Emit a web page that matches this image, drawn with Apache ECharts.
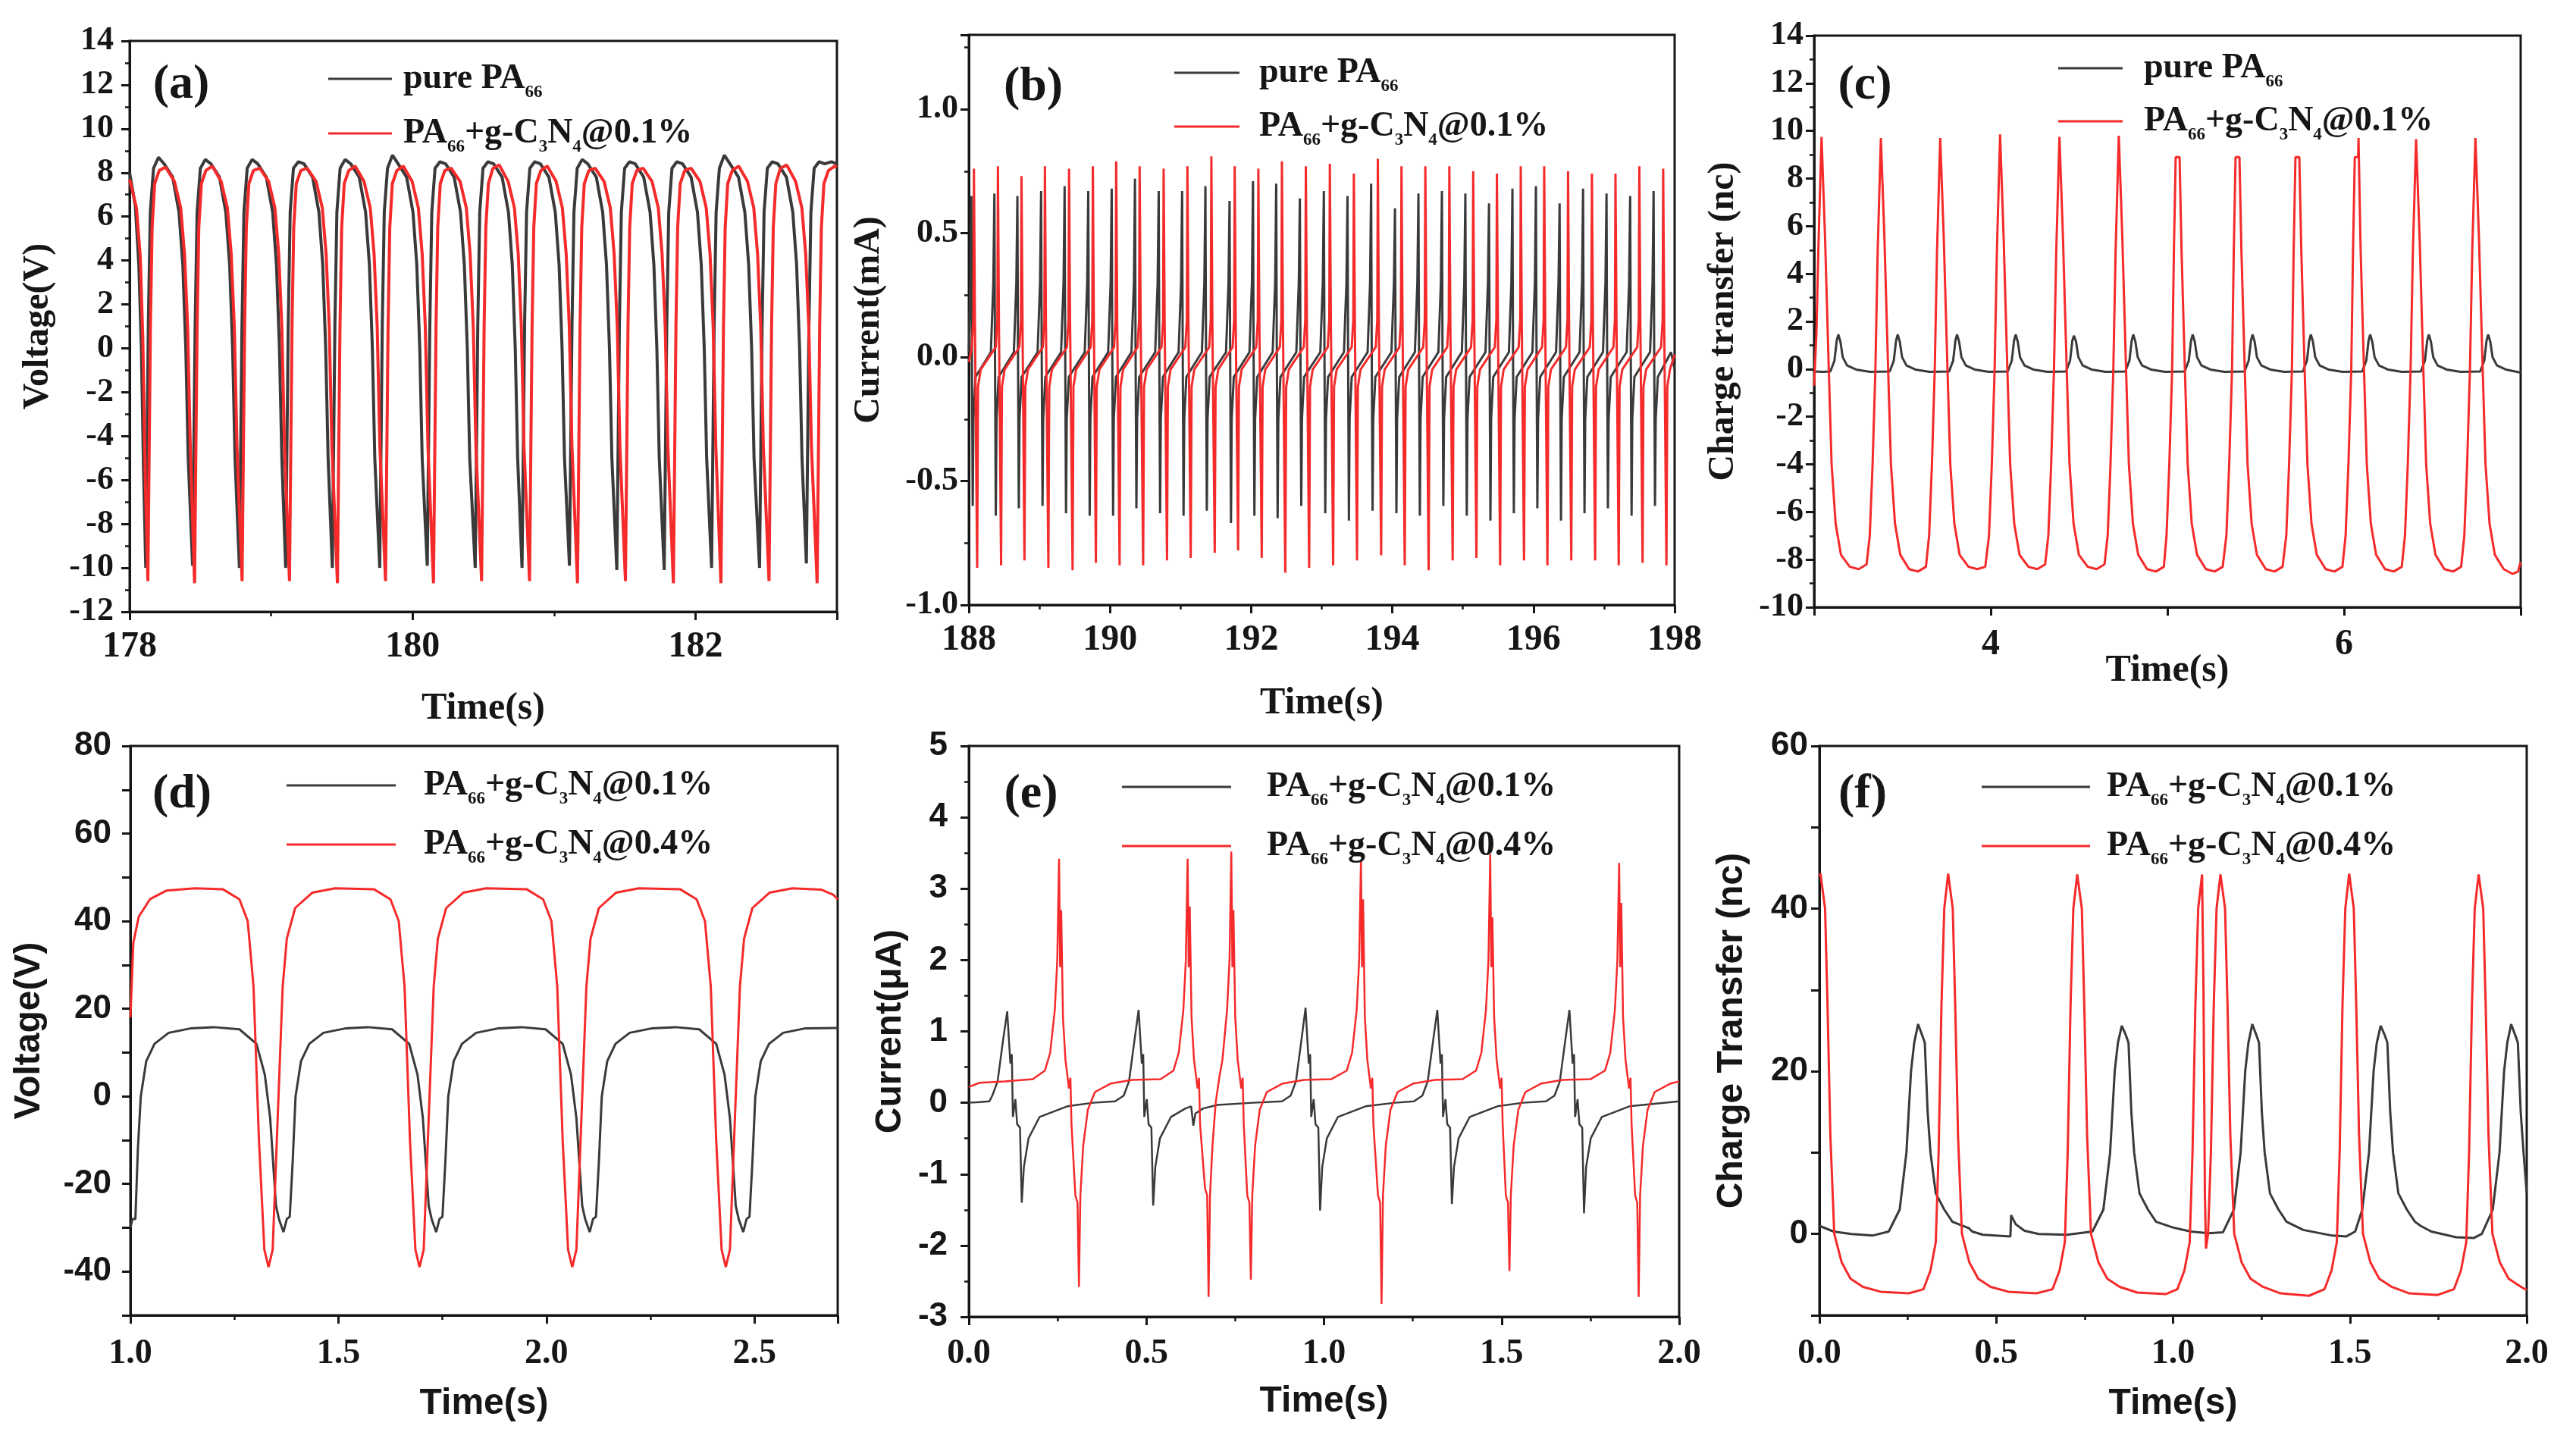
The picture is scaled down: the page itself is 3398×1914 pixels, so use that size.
<!DOCTYPE html>
<html>
<head>
<meta charset="utf-8">
<script src="https://cdn.jsdelivr.net/npm/echarts/dist/echarts.min.js"></script>
<style>
html,body{margin:0;padding:0;background:#fff}
#chart{width:3398px;height:1914px}
</style>
</head>
<body>
<div id="chart"></div>
<script>
// (a) voltage, 178-183 s
var aBlack = [[178.000,8.0],[178.040,6.5],[178.065,3.8],[178.083,0.0],[178.098,-5.5],
[178.114,-10.0],[178.132,1.0],[178.146,6.2],[178.169,8.2],[178.204,8.7],[178.244,8.4],[178.304,7.8],[178.349,6.2],[178.376,3.8],[178.397,0.0],[178.414,-5.0],
[178.445,-9.9],[178.463,1.0],[178.477,6.2],[178.500,8.2],[178.535,8.6],[178.575,8.4],[178.635,7.8],[178.680,6.2],[178.707,3.8],[178.728,0.0],[178.745,-5.0],
[178.776,-10.0],[178.794,1.0],[178.808,6.2],[178.831,8.2],[178.866,8.6],[178.906,8.4],[178.966,7.8],[179.011,6.2],[179.038,3.8],[179.059,0.0],[179.076,-5.0],
[179.103,-10.0],[179.121,1.0],[179.135,6.2],[179.158,8.2],[179.193,8.5],[179.233,8.4],[179.293,7.8],[179.338,6.2],[179.365,3.8],[179.386,0.0],[179.403,-5.0],
[179.433,-10.0],[179.451,1.0],[179.465,6.2],[179.488,8.2],[179.523,8.6],[179.563,8.4],[179.623,7.8],[179.668,6.2],[179.695,3.8],[179.716,0.0],[179.733,-5.0],
[179.768,-10.0],[179.786,1.0],[179.800,6.2],[179.823,8.2],[179.858,8.8],[179.898,8.4],[179.958,7.8],[180.003,6.2],[180.030,3.8],[180.051,0.0],[180.068,-5.0],
[180.104,-9.9],[180.122,1.0],[180.136,6.2],[180.159,8.2],[180.194,8.5],[180.234,8.4],[180.294,7.8],[180.339,6.2],[180.366,3.8],[180.387,0.0],[180.404,-5.0],
[180.443,-10.0],[180.461,1.0],[180.475,6.2],[180.498,8.2],[180.533,8.5],[180.573,8.4],[180.633,7.8],[180.678,6.2],[180.705,3.8],[180.726,0.0],[180.743,-5.0],
[180.774,-10.0],[180.792,1.0],[180.806,6.2],[180.829,8.2],[180.864,8.5],[180.904,8.4],[180.964,7.8],[181.009,6.2],[181.036,3.8],[181.057,0.0],[181.074,-5.0],
[181.109,-9.9],[181.127,1.0],[181.141,6.2],[181.164,8.2],[181.199,8.6],[181.239,8.4],[181.299,7.8],[181.344,6.2],[181.371,3.8],[181.392,0.0],[181.409,-5.0],
[181.444,-10.1],[181.462,1.0],[181.476,6.2],[181.499,8.2],[181.534,8.5],[181.574,8.4],[181.634,7.8],[181.679,6.2],[181.706,3.8],[181.727,0.0],[181.744,-5.0],
[181.779,-10.1],[181.797,1.0],[181.811,6.2],[181.834,8.2],[181.869,8.5],[181.909,8.4],[181.969,7.8],[182.014,6.2],[182.041,3.8],[182.062,0.0],[182.079,-5.0],
[182.114,-10.0],[182.132,1.0],[182.146,6.2],[182.169,8.2],[182.204,8.8],[182.244,8.4],[182.304,7.8],[182.349,6.2],[182.376,3.8],[182.397,0.0],[182.414,-5.0],
[182.453,-10.0],[182.471,1.0],[182.485,6.2],[182.508,8.2],[182.543,8.5],[182.583,8.4],[182.643,7.8],[182.688,6.2],[182.715,3.8],[182.736,0.0],[182.753,-5.0],
[182.784,-9.8],[182.802,1.0],[182.816,6.2],[182.839,8.2],[182.874,8.5],[182.914,8.4],[182.960,8.5],[183.000,8.4]];

var aRed = [[178.000,7.7],[178.048,6.4],[178.075,4.2],[178.093,0.5],[178.111,-6.0],
[178.129,-10.6],[178.147,1.0],[178.159,5.5],[178.177,7.5],[178.209,8.1],[178.254,8.25],[178.317,7.6],[178.361,6.4],[178.388,4.3],[178.410,1.0],[178.429,-4.5],
[178.459,-10.7],[178.477,1.0],[178.489,5.5],[178.507,7.5],[178.539,8.1],[178.584,8.3],[178.647,7.6],[178.691,6.4],[178.718,4.3],[178.740,1.0],[178.759,-4.5],
[178.795,-10.6],[178.813,1.0],[178.825,5.5],[178.843,7.5],[178.875,8.1],[178.920,8.2],[178.983,7.6],[179.027,6.4],[179.054,4.3],[179.076,1.0],[179.095,-4.5],
[179.130,-10.6],[179.148,1.0],[179.160,5.5],[179.178,7.5],[179.210,8.1],[179.255,8.2],[179.318,7.6],[179.362,6.4],[179.389,4.3],[179.411,1.0],[179.430,-4.5],
[179.469,-10.7],[179.487,1.0],[179.499,5.5],[179.517,7.5],[179.549,8.1],[179.594,8.3],[179.657,7.6],[179.701,6.4],[179.728,4.3],[179.750,1.0],[179.769,-4.5],
[179.809,-10.6],[179.827,1.0],[179.839,5.5],[179.857,7.5],[179.889,8.1],[179.934,8.3],[179.997,7.6],[180.041,6.4],[180.068,4.3],[180.090,1.0],[180.109,-4.5],
[180.148,-10.7],[180.166,1.0],[180.178,5.5],[180.196,7.5],[180.228,8.1],[180.273,8.2],[180.336,7.6],[180.380,6.4],[180.407,4.3],[180.429,1.0],[180.448,-4.5],
[180.488,-10.6],[180.506,1.0],[180.518,5.5],[180.536,7.5],[180.568,8.2],[180.613,8.35],[180.676,7.6],[180.720,6.4],[180.747,4.3],[180.769,1.0],[180.788,-4.5],
[180.827,-10.6],[180.845,1.0],[180.857,5.5],[180.875,7.5],[180.907,8.1],[180.952,8.3],[181.015,7.6],[181.059,6.4],[181.086,4.3],[181.108,1.0],[181.127,-4.5],
[181.166,-10.7],[181.184,1.0],[181.196,5.5],[181.214,7.5],[181.246,8.1],[181.291,8.2],[181.354,7.6],[181.398,6.4],[181.425,4.3],[181.447,1.0],[181.466,-4.5],
[181.505,-10.6],[181.523,1.0],[181.535,5.5],[181.553,7.5],[181.585,8.1],[181.630,8.2],[181.693,7.6],[181.737,6.4],[181.764,4.3],[181.786,1.0],[181.805,-4.5],
[181.844,-10.7],[181.862,1.0],[181.874,5.5],[181.892,7.5],[181.924,8.1],[181.969,8.2],[182.032,7.6],[182.076,6.4],[182.103,4.3],[182.125,1.0],[182.144,-4.5],
[182.180,-10.7],[182.198,1.0],[182.210,5.5],[182.228,7.5],[182.260,8.1],[182.305,8.3],[182.368,7.6],[182.412,6.4],[182.439,4.3],[182.461,1.0],[182.480,-4.5],
[182.520,-10.6],[182.538,1.0],[182.550,5.5],[182.568,7.5],[182.600,8.2],[182.645,8.35],[182.708,7.6],[182.752,6.4],[182.779,4.3],[182.801,1.0],[182.820,-4.5],
[182.860,-10.7],[182.878,1.0],[182.890,5.5],[182.908,7.5],[182.940,8.1],[182.985,8.3],[183.000,8.25]];

// (b) current, 188-198 s
var bBlack = [[188.000,0.02],
[188.020,0.3],[188.035,0.65],[188.043,0.05],[188.055,-0.60],[188.065,-0.25],[188.095,-0.08],
[188.312,0.02],[188.347,0.3],[188.362,0.66],[188.370,0.05],[188.382,-0.64],[188.392,-0.25],[188.422,-0.08],
[188.638,0.02],[188.673,0.3],[188.688,0.65],[188.696,0.05],[188.708,-0.61],[188.718,-0.25],[188.748,-0.08],
[188.974,0.02],[189.009,0.3],[189.024,0.67],[189.032,0.05],[189.044,-0.60],[189.054,-0.25],[189.084,-0.08],
[189.307,0.02],[189.342,0.3],[189.357,0.69],[189.365,0.05],[189.377,-0.63],[189.387,-0.25],[189.417,-0.08],
[189.642,0.02],[189.677,0.3],[189.692,0.67],[189.700,0.05],[189.712,-0.64],[189.722,-0.25],[189.752,-0.08],
[189.974,0.02],[190.009,0.3],[190.024,0.68],[190.032,0.05],[190.044,-0.64],[190.054,-0.25],[190.084,-0.08],
[190.304,0.02],[190.339,0.3],[190.354,0.72],[190.362,0.05],[190.374,-0.61],[190.384,-0.25],[190.414,-0.08],
[190.640,0.02],[190.675,0.3],[190.690,0.67],[190.698,0.05],[190.710,-0.63],[190.720,-0.25],[190.750,-0.08],
[190.972,0.02],[191.007,0.3],[191.022,0.67],[191.030,0.05],[191.042,-0.64],[191.052,-0.25],[191.082,-0.08],
[191.302,0.02],[191.337,0.3],[191.352,0.69],[191.360,0.05],[191.372,-0.62],[191.382,-0.25],[191.412,-0.08],
[191.644,0.02],[191.679,0.3],[191.694,0.63],[191.702,0.05],[191.714,-0.67],[191.724,-0.25],[191.754,-0.08],
[191.976,0.02],[192.011,0.3],[192.026,0.71],[192.034,0.05],[192.046,-0.64],[192.056,-0.25],[192.086,-0.08],
[192.305,0.02],[192.340,0.3],[192.355,0.70],[192.363,0.05],[192.375,-0.65],[192.385,-0.25],[192.415,-0.08],
[192.640,0.02],[192.675,0.3],[192.690,0.64],[192.698,0.05],[192.710,-0.60],[192.720,-0.25],[192.750,-0.08],
[192.980,0.02],[193.015,0.3],[193.030,0.67],[193.038,0.05],[193.050,-0.63],[193.060,-0.25],[193.090,-0.08],
[193.315,0.02],[193.350,0.3],[193.365,0.65],[193.373,0.05],[193.385,-0.66],[193.395,-0.25],[193.425,-0.08],
[193.650,0.02],[193.685,0.3],[193.700,0.70],[193.708,0.05],[193.720,-0.62],[193.730,-0.25],[193.760,-0.08],
[193.988,0.02],[194.023,0.3],[194.038,0.60],[194.046,0.05],[194.058,-0.63],[194.068,-0.25],[194.098,-0.08],
[194.320,0.02],[194.355,0.3],[194.370,0.66],[194.378,0.05],[194.390,-0.64],[194.400,-0.25],[194.430,-0.08],
[194.653,0.02],[194.688,0.3],[194.703,0.67],[194.711,0.05],[194.723,-0.60],[194.733,-0.25],[194.763,-0.08],
[194.985,0.02],[195.020,0.3],[195.035,0.66],[195.043,0.05],[195.055,-0.64],[195.065,-0.25],[195.095,-0.08],
[195.320,0.02],[195.355,0.3],[195.370,0.62],[195.378,0.05],[195.390,-0.66],[195.400,-0.25],[195.430,-0.08],
[195.652,0.02],[195.687,0.3],[195.702,0.68],[195.710,0.05],[195.722,-0.63],[195.732,-0.25],[195.762,-0.08],
[195.985,0.02],[196.020,0.3],[196.035,0.69],[196.043,0.05],[196.055,-0.61],[196.065,-0.25],[196.095,-0.08],
[196.320,0.02],[196.355,0.3],[196.370,0.62],[196.378,0.05],[196.390,-0.66],[196.400,-0.25],[196.430,-0.08],
[196.653,0.02],[196.688,0.3],[196.703,0.68],[196.711,0.05],[196.723,-0.63],[196.733,-0.25],[196.763,-0.08],
[196.985,0.02],[197.020,0.3],[197.035,0.66],[197.043,0.05],[197.055,-0.61],[197.065,-0.25],[197.095,-0.08],
[197.320,0.02],[197.355,0.3],[197.370,0.65],[197.378,0.05],[197.390,-0.64],[197.400,-0.25],[197.430,-0.08],
[197.652,0.02],[197.687,0.3],[197.702,0.67],[197.710,0.05],[197.722,-0.60],[197.732,-0.25],[197.762,-0.08],
[197.950,0.02],[198.000,-0.05]];

var bRed = [[188.000,-0.02],
[188.042,0.04],[188.064,0.15],[188.072,0.76],[188.087,0.12],[188.118,-0.85],[188.130,-0.12],[188.168,-0.05],
[188.382,0.04],[188.404,0.15],[188.412,0.77],[188.427,0.12],[188.457,-0.84],[188.469,-0.12],[188.507,-0.05],
[188.716,0.04],[188.738,0.15],[188.746,0.73],[188.761,0.12],[188.788,-0.82],[188.800,-0.12],[188.838,-0.05],
[189.048,0.04],[189.070,0.15],[189.078,0.77],[189.093,0.12],[189.127,-0.85],[189.139,-0.12],[189.177,-0.05],
[189.390,0.04],[189.412,0.15],[189.420,0.76],[189.435,0.12],[189.470,-0.86],[189.482,-0.12],[189.520,-0.05],
[189.727,0.04],[189.749,0.15],[189.757,0.77],[189.772,0.12],[189.800,-0.83],[189.812,-0.12],[189.850,-0.05],
[190.058,0.04],[190.080,0.15],[190.088,0.79],[190.103,0.12],[190.136,-0.84],[190.148,-0.12],[190.186,-0.05],
[190.390,0.04],[190.412,0.15],[190.420,0.77],[190.435,0.12],[190.470,-0.84],[190.482,-0.12],[190.520,-0.05],
[190.730,0.04],[190.752,0.15],[190.760,0.76],[190.775,0.12],[190.808,-0.82],[190.820,-0.12],[190.858,-0.05],
[191.067,0.04],[191.089,0.15],[191.097,0.77],[191.112,0.12],[191.144,-0.81],[191.156,-0.12],[191.194,-0.05],
[191.406,0.04],[191.428,0.15],[191.436,0.81],[191.451,0.12],[191.484,-0.79],[191.496,-0.12],[191.534,-0.05],
[191.737,0.04],[191.759,0.15],[191.767,0.77],[191.782,0.12],[191.815,-0.78],[191.827,-0.12],[191.865,-0.05],
[192.072,0.04],[192.094,0.15],[192.102,0.76],[192.117,0.12],[192.150,-0.81],[192.162,-0.12],[192.200,-0.05],
[192.406,0.04],[192.428,0.15],[192.436,0.79],[192.451,0.12],[192.484,-0.87],[192.496,-0.12],[192.534,-0.05],
[192.745,0.04],[192.767,0.15],[192.775,0.77],[192.790,0.12],[192.822,-0.85],[192.834,-0.12],[192.872,-0.05],
[193.085,0.04],[193.107,0.15],[193.115,0.78],[193.130,0.12],[193.162,-0.84],[193.174,-0.12],[193.212,-0.05],
[193.425,0.04],[193.447,0.15],[193.455,0.74],[193.470,0.12],[193.500,-0.82],[193.512,-0.12],[193.550,-0.05],
[193.765,0.04],[193.787,0.15],[193.795,0.80],[193.810,0.12],[193.842,-0.80],[193.854,-0.12],[193.892,-0.05],
[194.100,0.04],[194.122,0.15],[194.130,0.77],[194.145,0.12],[194.176,-0.84],[194.188,-0.12],[194.226,-0.05],
[194.438,0.04],[194.460,0.15],[194.468,0.77],[194.483,0.12],[194.515,-0.86],[194.527,-0.12],[194.565,-0.05],
[194.778,0.04],[194.800,0.15],[194.808,0.77],[194.823,0.12],[194.855,-0.82],[194.867,-0.12],[194.905,-0.05],
[195.116,0.04],[195.138,0.15],[195.146,0.75],[195.161,0.12],[195.192,-0.81],[195.204,-0.12],[195.242,-0.05],
[195.452,0.04],[195.474,0.15],[195.482,0.74],[195.497,0.12],[195.528,-0.84],[195.540,-0.12],[195.578,-0.05],
[195.790,0.04],[195.812,0.15],[195.820,0.77],[195.835,0.12],[195.866,-0.82],[195.878,-0.12],[195.916,-0.05],
[196.122,0.04],[196.144,0.15],[196.152,0.77],[196.167,0.12],[196.198,-0.84],[196.210,-0.12],[196.248,-0.05],
[196.460,0.04],[196.482,0.15],[196.490,0.75],[196.505,0.12],[196.536,-0.82],[196.548,-0.12],[196.586,-0.05],
[196.798,0.04],[196.820,0.15],[196.828,0.74],[196.843,0.12],[196.874,-0.82],[196.886,-0.12],[196.924,-0.05],
[197.132,0.04],[197.154,0.15],[197.162,0.74],[197.177,0.12],[197.208,-0.84],[197.220,-0.12],[197.258,-0.05],
[197.470,0.04],[197.492,0.15],[197.500,0.77],[197.515,0.12],[197.546,-0.83],[197.558,-0.12],[197.596,-0.05],
[197.808,0.04],[197.830,0.15],[197.838,0.76],[197.853,0.12],[197.884,-0.84],[197.896,-0.12],[197.934,-0.05],
[198.000,0.01]];

// (c) charge transfer, 3-7 s
var cBlack = [[3.000,-0.1],[3.050,-0.12],
[3.092,-0.1],[3.115,0.35],[3.128,1.2],[3.137,1.45],[3.149,1.15],[3.162,0.5],[3.187,0.15],[3.237,-0.02],[3.317,-0.12],
[3.428,-0.1],[3.451,0.35],[3.464,1.2],[3.473,1.45],[3.485,1.15],[3.498,0.5],[3.523,0.15],[3.573,-0.02],[3.653,-0.12],
[3.764,-0.1],[3.787,0.35],[3.800,1.2],[3.809,1.45],[3.821,1.15],[3.834,0.5],[3.859,0.15],[3.909,-0.02],[3.989,-0.12],
[4.096,-0.1],[4.119,0.35],[4.132,1.2],[4.141,1.45],[4.153,1.15],[4.166,0.5],[4.191,0.15],[4.241,-0.02],[4.321,-0.12],
[4.426,-0.1],[4.449,0.35],[4.462,1.2],[4.471,1.4],[4.483,1.15],[4.496,0.5],[4.521,0.15],[4.571,-0.02],[4.651,-0.12],
[4.762,-0.1],[4.785,0.35],[4.798,1.2],[4.807,1.45],[4.819,1.15],[4.832,0.5],[4.857,0.15],[4.907,-0.02],[4.987,-0.12],
[5.098,-0.1],[5.121,0.35],[5.134,1.2],[5.143,1.45],[5.155,1.15],[5.168,0.5],[5.193,0.15],[5.243,-0.02],[5.323,-0.12],
[5.437,-0.1],[5.460,0.35],[5.473,1.2],[5.482,1.45],[5.494,1.15],[5.507,0.5],[5.532,0.15],[5.582,-0.02],[5.662,-0.12],
[5.767,-0.1],[5.790,0.35],[5.803,1.2],[5.812,1.45],[5.824,1.15],[5.837,0.5],[5.862,0.15],[5.912,-0.02],[5.992,-0.12],
[6.103,-0.1],[6.126,0.35],[6.139,1.2],[6.148,1.45],[6.160,1.15],[6.173,0.5],[6.198,0.15],[6.248,-0.02],[6.328,-0.12],
[6.435,-0.1],[6.458,0.35],[6.471,1.2],[6.480,1.45],[6.492,1.15],[6.505,0.5],[6.530,0.15],[6.580,-0.02],[6.660,-0.12],
[6.771,-0.1],[6.794,0.35],[6.807,1.2],[6.816,1.45],[6.828,1.15],[6.841,0.5],[6.866,0.15],[6.916,-0.02],[7.000,-0.15]];

var cRed = [[3.000,-0.7],[3.013,1.5],[3.024,5.0],[3.042,9.75],
[3.062,5.5],[3.083,0],[3.099,-4],[3.122,-6.5],[3.152,-7.8],[3.202,-8.3],[3.252,-8.4],[3.297,-8.2],[3.315,-7.0],[3.331,-4],[3.347,0],[3.360,5],[3.378,9.7],
[3.398,5.5],[3.419,0],[3.435,-4],[3.458,-6.5],[3.488,-7.8],[3.538,-8.4],[3.588,-8.5],[3.633,-8.3],[3.651,-7.0],[3.667,-4],[3.683,0],[3.696,5],[3.714,9.7],
[3.734,5.5],[3.755,0],[3.771,-4],[3.794,-6.5],[3.824,-7.8],[3.874,-8.3],[3.924,-8.4],[3.969,-8.3],[3.990,-7.0],[4.006,-4],[4.022,0],[4.035,5],[4.053,9.85],
[4.073,5.5],[4.094,0],[4.110,-4],[4.133,-6.5],[4.163,-7.8],[4.213,-8.3],[4.263,-8.4],[4.308,-8.2],[4.326,-7.0],[4.342,-4],[4.358,0],[4.371,5],[4.389,9.75],
[4.409,5.5],[4.430,0],[4.446,-4],[4.469,-6.5],[4.499,-7.8],[4.549,-8.3],[4.599,-8.4],[4.644,-8.2],[4.662,-7.0],[4.678,-4],[4.694,0],[4.707,5],[4.725,9.8],
[4.745,5.5],[4.766,0],[4.782,-4],[4.805,-6.5],[4.835,-7.8],[4.885,-8.4],[4.935,-8.5],[4.980,-8.3],[4.995,-7.0],[5.011,-4],[5.027,0],[5.037,5],[5.047,8.9],[5.069,8.9],
[5.080,5.0],[5.099,0],[5.115,-4],[5.138,-6.5],[5.168,-7.8],[5.218,-8.4],[5.268,-8.5],[5.313,-8.3],[5.334,-7.0],[5.350,-4],[5.366,0],[5.376,5],[5.386,8.9],[5.408,8.9],
[5.419,5.0],[5.438,0],[5.454,-4],[5.477,-6.5],[5.507,-7.8],[5.557,-8.4],[5.607,-8.5],[5.652,-8.3],[5.673,-7.0],[5.689,-4],[5.705,0],[5.715,5],[5.725,8.9],[5.747,8.9],
[5.758,5.0],[5.777,0],[5.793,-4],[5.816,-6.5],[5.846,-7.8],[5.896,-8.4],[5.946,-8.5],[5.991,-8.3],[6.009,-7.0],[6.025,-4],[6.041,0],[6.051,5],[6.061,8.9],[6.080,8.9],[6.082,9.7],
[6.094,5.0],[6.113,0],[6.129,-4],[6.152,-6.5],[6.182,-7.8],[6.232,-8.4],[6.282,-8.5],[6.327,-8.3],[6.345,-7.0],[6.361,-4],[6.377,0],[6.390,5],[6.408,9.65],
[6.428,5.5],[6.449,0],[6.465,-4],[6.488,-6.5],[6.518,-7.8],[6.568,-8.4],[6.618,-8.5],[6.663,-8.3],[6.681,-7.0],[6.697,-4],[6.713,0],[6.726,5],[6.744,9.7],
[6.764,5.5],[6.785,0],[6.801,-4],[6.824,-6.5],[6.854,-7.8],[6.904,-8.4],[6.954,-8.6],[6.985,-8.5],[7.000,-8.1]];

// (d) voltage, 0.1% vs 0.4%
var dBlack = [[1.000,-30],[1.005,-28],[1.012,-28],[1.018,-12],[1.025,0],[1.038,8],[1.058,12],[1.092,14.5],[1.144,15.5],[1.200,15.8],
[1.262,15.3],[1.303,12],[1.323,5],[1.336,-5],[1.350,-25],[1.357,-28],[1.368,-31],[1.376,-28],[1.383,-27.5],[1.390,-15],[1.397,0],[1.410,8],[1.430,12],[1.464,14.5],[1.516,15.5],[1.570,15.8],
[1.629,15.3],[1.670,12],[1.690,5],[1.703,-5],[1.717,-25],[1.724,-28],[1.735,-31],[1.743,-28],[1.750,-27.5],[1.757,-15],[1.764,0],[1.777,8],[1.797,12],[1.831,14.5],[1.883,15.5],[1.940,15.8],
[1.998,15.3],[2.039,12],[2.059,5],[2.072,-5],[2.086,-25],[2.093,-28],[2.104,-31],[2.112,-28],[2.119,-27.5],[2.126,-15],[2.133,0],[2.146,8],[2.166,12],[2.200,14.5],[2.252,15.5],[2.310,15.8],
[2.367,15.3],[2.408,12],[2.428,5],[2.441,-5],[2.455,-25],[2.462,-28],[2.473,-31],[2.481,-28],[2.488,-27.5],[2.495,-15],[2.502,0],[2.515,8],[2.535,12],[2.569,14.5],[2.621,15.5],[2.700,15.6]];

var dRed = [[1.000,18],[1.007,35],[1.020,41],[1.047,45],[1.087,47],[1.155,47.5],
[1.222,47.3],[1.262,45],[1.282,40],[1.296,25],[1.309,-10],[1.322,-35],[1.332,-39],[1.342,-35],[1.352,-10],[1.366,25],[1.376,36],[1.396,43],[1.437,46.5],[1.492,47.5],
[1.585,47.3],[1.625,45],[1.645,40],[1.659,25],[1.672,-10],[1.685,-35],[1.695,-39],[1.705,-35],[1.715,-10],[1.729,25],[1.739,36],[1.759,43],[1.800,46.5],[1.855,47.5],
[1.952,47.3],[1.992,45],[2.012,40],[2.026,25],[2.039,-10],[2.052,-35],[2.062,-39],[2.072,-35],[2.082,-10],[2.096,25],[2.106,36],[2.126,43],[2.167,46.5],[2.222,47.5],
[2.321,47.3],[2.361,45],[2.381,40],[2.395,25],[2.408,-10],[2.421,-35],[2.431,-39],[2.441,-35],[2.451,-10],[2.465,25],[2.475,36],[2.495,43],[2.536,46.5],[2.591,47.5],[2.660,47.2],[2.690,46.0],[2.700,45.0]];

// (e) current, 0-2 s
var eBlack = [[0.000,0.0],[0.030,0.01],
[0.058,0.02],[0.066,0.1],[0.081,0.3],[0.097,0.9],[0.108,1.28],[0.117,0.55],[0.121,0.68],[0.124,-0.2],[0.131,0.05],[0.136,-0.3],[0.144,-0.35],[0.149,-1.40],[0.155,-0.9],[0.168,-0.5],[0.199,-0.2],[0.277,-0.05],[0.350,0.0],
[0.412,0.02],[0.436,0.1],[0.451,0.3],[0.467,0.9],[0.478,1.30],[0.487,0.55],[0.491,0.68],[0.494,-0.2],[0.501,0.05],[0.506,-0.3],[0.514,-0.35],[0.519,-1.44],[0.525,-0.9],[0.538,-0.5],[0.569,-0.2],[0.610,-0.08],[0.626,-0.05],[0.632,-0.32],[0.638,-0.15],[0.660,-0.08],[0.700,-0.03],[0.800,0.0],
[0.882,0.02],[0.906,0.1],[0.921,0.3],[0.937,0.9],[0.948,1.33],[0.957,0.55],[0.961,0.68],[0.964,-0.2],[0.971,0.05],[0.976,-0.3],[0.984,-0.35],[0.989,-1.51],[0.995,-0.9],[1.008,-0.5],[1.039,-0.2],[1.117,-0.05],[1.200,0.0],
[1.253,0.02],[1.277,0.1],[1.292,0.3],[1.308,0.9],[1.319,1.30],[1.328,0.55],[1.332,0.68],[1.335,-0.2],[1.342,0.05],[1.347,-0.3],[1.355,-0.35],[1.360,-1.42],[1.366,-0.9],[1.379,-0.5],[1.410,-0.2],[1.488,-0.05],[1.560,0.0],
[1.625,0.02],[1.649,0.1],[1.664,0.3],[1.680,0.9],[1.691,1.30],[1.700,0.55],[1.704,0.68],[1.707,-0.2],[1.714,0.05],[1.719,-0.3],[1.727,-0.35],[1.732,-1.55],[1.738,-0.9],[1.751,-0.5],[1.782,-0.2],[1.860,-0.05],[2.000,0.02]];

var eRed = [[0.000,0.22],[0.030,0.28],[0.100,0.30],[0.180,0.33],
[0.214,0.45],[0.229,0.7],[0.242,1.3],[0.249,2.0],[0.254,3.42],[0.257,1.9],[0.260,2.7],[0.265,1.2],[0.272,0.6],[0.282,0.2],[0.286,0.35],[0.289,-0.3],[0.300,-1.3],[0.306,-1.4],[0.310,-2.58],[0.314,-1.3],[0.322,-0.6],[0.335,-0.1],[0.355,0.15],[0.400,0.27],[0.460,0.32],[0.540,0.33],
[0.576,0.45],[0.591,0.7],[0.604,1.3],[0.611,2.0],[0.616,3.42],[0.619,1.9],[0.622,2.75],[0.627,1.2],[0.634,0.6],[0.644,0.2],[0.648,0.35],[0.651,-0.3],[0.665,-1.2],[0.671,-1.3],[0.675,-2.72],[0.679,-1.3],[0.686,-0.6],[0.695,0.0],[0.705,0.35],
[0.714,0.6],[0.727,1.3],[0.734,2.0],[0.739,3.52],[0.742,1.9],[0.745,2.7],[0.750,1.2],[0.757,0.6],[0.767,0.2],[0.771,0.35],[0.774,-0.3],[0.784,-1.3],[0.790,-1.4],[0.794,-2.48],[0.798,-1.3],[0.806,-0.6],[0.819,-0.1],[0.839,0.15],[0.884,0.27],[0.944,0.32],[1.020,0.33],
[1.064,0.45],[1.079,0.7],[1.092,1.3],[1.099,2.0],[1.104,3.40],[1.107,1.9],[1.110,2.85],[1.115,1.2],[1.122,0.6],[1.132,0.2],[1.136,0.35],[1.139,-0.3],[1.152,-1.3],[1.158,-1.4],[1.162,-2.82],[1.166,-1.3],[1.174,-0.6],[1.187,-0.1],[1.207,0.15],[1.252,0.27],[1.312,0.32],[1.390,0.33],
[1.428,0.45],[1.443,0.7],[1.456,1.3],[1.463,2.0],[1.468,3.48],[1.471,1.9],[1.474,2.6],[1.479,1.2],[1.486,0.6],[1.496,0.2],[1.500,0.35],[1.503,-0.3],[1.512,-1.3],[1.518,-1.4],[1.522,-2.36],[1.526,-1.3],[1.534,-0.6],[1.547,-0.1],[1.567,0.15],[1.612,0.27],[1.672,0.32],[1.750,0.33],
[1.791,0.45],[1.806,0.7],[1.819,1.3],[1.826,2.0],[1.831,3.36],[1.834,1.9],[1.837,2.8],[1.842,1.2],[1.849,0.6],[1.859,0.2],[1.863,0.35],[1.866,-0.3],[1.876,-1.3],[1.882,-1.4],[1.886,-2.72],[1.890,-1.3],[1.898,-0.6],[1.911,-0.1],[1.931,0.15],[1.976,0.27],[2.000,0.30]];

// (f) charge transfer, 0-2 s
var fBlack = [[0.000,1.0],[0.040,0.3],[0.090,0.0],[0.150,-0.2],
[0.196,0.3],[0.227,3],[0.246,10],[0.259,20],[0.268,23.5],[0.279,25.8],[0.290,24.5],[0.298,23.5],[0.306,15],[0.314,10],[0.329,5],[0.353,3],[0.376,1.5],[0.423,0.7],[0.432,0.3],[0.462,-0.1],[0.540,-0.3],[0.542,2.3],[0.555,1.2],[0.580,0.4],[0.620,0.0],[0.700,-0.1],
[0.772,0.3],[0.803,3],[0.822,10],[0.835,20],[0.844,23.5],[0.855,25.6],[0.866,24.5],[0.874,23.5],[0.882,15],[0.890,10],[0.905,5],[0.929,3],[0.952,1.5],[0.999,0.8],[1.050,0.3],[1.100,0.1],
[1.141,0.2],[1.172,3],[1.191,10],[1.204,20],[1.213,23.5],[1.224,25.8],[1.235,24.5],[1.243,23.5],[1.251,15],[1.259,10],[1.274,5],[1.298,3],[1.321,1.5],[1.368,0.5],[1.450,-0.2],[1.490,-0.3],
[1.515,0.3],[1.535,3],[1.554,10],[1.567,20],[1.576,23.5],[1.587,25.6],[1.598,24.5],[1.606,23.5],[1.614,15],[1.622,10],[1.637,5],[1.661,3],[1.684,1.5],[1.700,1.0],[1.730,0.3],[1.800,-0.4],[1.850,-0.5],
[1.873,0.0],[1.904,3],[1.923,10],[1.936,20],[1.945,23.5],[1.956,25.8],[1.967,24.5],[1.975,23.5],[1.983,15],[1.991,10],[2.000,5]];

var fRed = [[0.000,44.0],[0.003,44.3],[0.016,40],[0.023,28],[0.031,12],[0.042,0],[0.063,-3.5],[0.088,-5.5],[0.123,-6.5],[0.173,-7.1],[0.253,-7.3],
[0.294,-6.8],[0.314,-4.5],[0.329,-1.0],[0.337,10],[0.345,28],[0.353,40],[0.364,44.3],[0.377,40],[0.384,28],[0.392,12],[0.403,0],[0.424,-3.5],[0.449,-5.5],[0.484,-6.5],[0.534,-7.1],[0.614,-7.3],
[0.659,-6.8],[0.679,-4.5],[0.694,-1.0],[0.702,10],[0.710,28],[0.718,40],[0.729,44.2],[0.742,40],[0.749,28],[0.757,12],[0.768,0],[0.789,-3.5],[0.814,-5.5],[0.849,-6.5],[0.899,-7.2],[0.979,-7.4],[1.012,-6.8],
[1.032,-4.5],[1.047,-1.0],[1.055,10],[1.063,28],[1.071,40],[1.082,44.2],[1.086,30],[1.090,5],[1.093,-1.8],
[1.099,0],[1.107,10],[1.115,28],[1.123,40],[1.134,44.2],[1.147,40],[1.154,28],[1.162,12],[1.173,0],[1.194,-3.5],[1.219,-5.5],[1.254,-6.5],[1.304,-7.3],[1.384,-7.6],[1.428,-6.8],
[1.448,-4.5],[1.463,-1.0],[1.471,10],[1.479,28],[1.487,40],[1.498,44.3],[1.511,40],[1.518,28],[1.526,12],[1.537,0],[1.558,-3.5],[1.583,-5.5],[1.618,-6.5],[1.668,-7.3],[1.748,-7.5],[1.794,-6.8],
[1.814,-4.5],[1.829,-1.0],[1.837,10],[1.845,28],[1.853,40],[1.864,44.2],[1.877,40],[1.884,28],[1.892,12],[1.903,0],[1.924,-3.5],[1.949,-5.5],[1.984,-6.5],[2.000,-6.9]];

var SERIF = '"Liberation Serif","Times New Roman",serif';
var SANS = '"Liberation Sans",Arial,sans-serif';
var INK = '#161616';
var RED = '#f52a2a';
var GREY = '#3a3a3a';

// plot frames [left, top, width, height]
var frames = [
  [171, 54, 933, 753],
  [1278, 46, 931, 752],
  [2393, 47, 932, 754],
  [172, 984, 933, 751],
  [1278, 984, 937, 753],
  [2400, 984, 933, 751]
];

function oneDecimalHalf(v) {
  return Math.abs(v * 2 - Math.round(v * 2)) < 1e-6 ? v.toFixed(1) : '';
}
function every20(v) {
  return Math.abs(v % 20) < 1e-6 ? String(v) : '';
}

function makeAxis(gi, o) {
  return {
    type: 'value', gridIndex: gi, min: o.min, max: o.max, interval: o.step,
    name: o.name, nameLocation: 'middle', nameGap: o.gap, nameMoveOverlap: false,
    nameTextStyle: { fontFamily: o.nameFont, fontWeight: 'bold', fontSize: o.nameSize, color: INK },
    axisLine: { show: true, onZero: false, lineStyle: { color: INK, width: 3 } },
    axisTick: { show: true, length: 11, lineStyle: { color: INK, width: 3 } },
    minorTick: { show: !!o.minor, splitNumber: o.minor || 2, length: 6, lineStyle: { color: INK, width: 2.5 } },
    splitLine: { show: false },
    axisLabel: { fontFamily: o.labelFont, fontWeight: 'bold', fontSize: o.labelSize, color: INK, margin: o.margin, formatter: o.fmt }
  };
}

var xAxes = [
  makeAxis(0, { min: 178, max: 183, step: 2, minor: 2, name: 'Time(s)', gap: 103, nameFont: SERIF, nameSize: 50,
    labelFont: SERIF, labelSize: 48, margin: 23, fmt: function (v) { return v % 2 === 0 ? String(v) : ''; } }),
  makeAxis(1, { min: 188, max: 198, step: 2, minor: 2, name: 'Time(s)', gap: 105, nameFont: SERIF, nameSize: 50,
    labelFont: SERIF, labelSize: 48, margin: 23 }),
  makeAxis(2, { min: 3, max: 7, step: 1, name: 'Time(s)', gap: 59, nameFont: SERIF, nameSize: 50,
    labelFont: SERIF, labelSize: 48, margin: 26, fmt: function (v) { return (v === 4 || v === 6) ? String(v) : ''; } }),
  makeAxis(3, { min: 1, max: 2.7, step: 0.5, minor: 2, name: 'Time(s)', gap: 93, nameFont: SANS, nameSize: 48,
    labelFont: SERIF, labelSize: 46, margin: 28, fmt: oneDecimalHalf }),
  makeAxis(4, { min: 0, max: 2, step: 0.5, minor: 2, name: 'Time(s)', gap: 88, nameFont: SANS, nameSize: 48,
    labelFont: SERIF, labelSize: 46, margin: 26, fmt: oneDecimalHalf }),
  makeAxis(5, { min: 0, max: 2, step: 0.5, minor: 2, name: 'Time(s)', gap: 93, nameFont: SANS, nameSize: 48,
    labelFont: SERIF, labelSize: 46, margin: 28, fmt: oneDecimalHalf })
];

var yAxes = [
  makeAxis(0, { min: -12, max: 14, step: 2, minor: 2, name: 'Voltage(V)', gap: 96, nameFont: SERIF, nameSize: 48,
    labelFont: SERIF, labelSize: 44, margin: 21 }),
  makeAxis(1, { min: -1, max: 1.3, step: 0.5, minor: 2, name: 'Current(mA)', gap: 107, nameFont: SERIF, nameSize: 48,
    labelFont: SERIF, labelSize: 44, margin: 14, fmt: oneDecimalHalf }),
  makeAxis(2, { min: -10, max: 14, step: 2, minor: 2, name: 'Charge transfer (nc)', gap: 95, nameFont: SERIF, nameSize: 48,
    labelFont: SERIF, labelSize: 44, margin: 14 }),
  makeAxis(3, { min: -50, max: 80, step: 10, name: 'Voltage(V)', gap: 109, nameFont: SANS, nameSize: 48,
    labelFont: SANS, labelSize: 44, margin: 25, fmt: every20 }),
  makeAxis(4, { min: -3, max: 5, step: 1, minor: 2, name: 'Current(\u03bcA)', gap: 79, nameFont: SANS, nameSize: 48,
    labelFont: SANS, labelSize: 44, margin: 28 }),
  makeAxis(5, { min: -10, max: 60, step: 10, name: 'Charge Transfer (nc)', gap: 91, nameFont: SANS, nameSize: 48,
    labelFont: SANS, labelSize: 44, margin: 15, fmt: every20 })
];

function line(name, data, color, gi, width) {
  return {
    type: 'line', name: name, data: data, xAxisIndex: gi, yAxisIndex: gi,
    showSymbol: false, symbol: 'none', color: color, itemStyle: { color: color },
    lineStyle: { color: color, width: width }, animation: false,
    z: color === RED ? 3 : 2
  };
}

var series = [
  line('(a) pure PA66', aBlack, GREY, 0, 4),
  line('(a) PA66+g-C3N4@0.1%', aRed, RED, 0, 4),
  line('(b) pure PA66', bBlack, GREY, 1, 3),
  line('(b) PA66+g-C3N4@0.1%', bRed, RED, 1, 3),
  line('(c) pure PA66', cBlack, GREY, 2, 3),
  line('(c) PA66+g-C3N4@0.1%', cRed, RED, 2, 3),
  line('(d) PA66+g-C3N4@0.1%', dBlack, GREY, 3, 3),
  line('(d) PA66+g-C3N4@0.4%', dRed, RED, 3, 3),
  line('(e) PA66+g-C3N4@0.1%', eBlack, GREY, 4, 2.5),
  line('(e) PA66+g-C3N4@0.4%', eRed, RED, 4, 2.5),
  line('(f) PA66+g-C3N4@0.1%', fBlack, GREY, 5, 3),
  line('(f) PA66+g-C3N4@0.4%', fRed, RED, 5, 3)
];

function richName(name) {
  return name.replace(/^\([a-f]\) /, '').replace('PA66', 'PA{s|66}').replace('C3N4', 'C{s|3}N{s|4}');
}

// legend boxes: [panel, left, top, sample width, gap, text pad]
var legendBoxes = [
  ['a', 433, 74, 84, 12, 10],
  ['b', 1549, 66, 86, 11, 21],
  ['c', 2715, 60, 85, 10, 23],
  ['d', 378, 1006, 144, 18, 32],
  ['e', 1480, 1008, 144, 18, 42],
  ['f', 2614, 1008, 143, 18, 17]
];

var legends = legendBoxes.map(function (b) {
  var names = series.filter(function (s) { return s.name.indexOf('(' + b[0] + ')') === 0; })
    .map(function (s) { return s.name; });
  return {
    orient: 'vertical', left: b[1], top: b[2], padding: 0,
    itemWidth: b[3], itemHeight: 3, itemGap: b[4], icon: 'rect',
    selectedMode: false, data: names, formatter: richName,
    textStyle: {
      fontFamily: SERIF, fontWeight: 'bold', fontSize: 46, color: INK, lineHeight: 60,
      padding: [0, 0, 0, b[5]],
      rich: { s: { fontFamily: SERIF, fontWeight: 'bold', fontSize: 23, lineHeight: 22, verticalAlign: 'bottom', color: INK } }
    }
  };
});

var tags = [['(a)', 239, 112], ['(b)', 1363, 115], ['(c)', 2460, 113], ['(d)', 240, 1048], ['(e)', 1360, 1048], ['(f)', 2457, 1048]];

var chart = echarts.init(document.getElementById('chart'));
chart.setOption({
  backgroundColor: '#ffffff',
  animation: false,
  grid: frames.map(function (f) {
    return { left: f[0], top: f[1], width: f[2], height: f[3], show: true, borderColor: INK, borderWidth: 3, backgroundColor: 'transparent' };
  }),
  xAxis: xAxes,
  yAxis: yAxes,
  legend: legends,
  series: series,
  graphic: tags.map(function (t) {
    return {
      type: 'text', x: t[1], y: t[2], z: 10,
      style: { text: t[0], font: 'bold 64px "Liberation Serif"', fill: INK,
        textAlign: 'center', textVerticalAlign: 'middle', align: 'center', verticalAlign: 'middle' }
    };
  })
});
</script>
</body>
</html>
